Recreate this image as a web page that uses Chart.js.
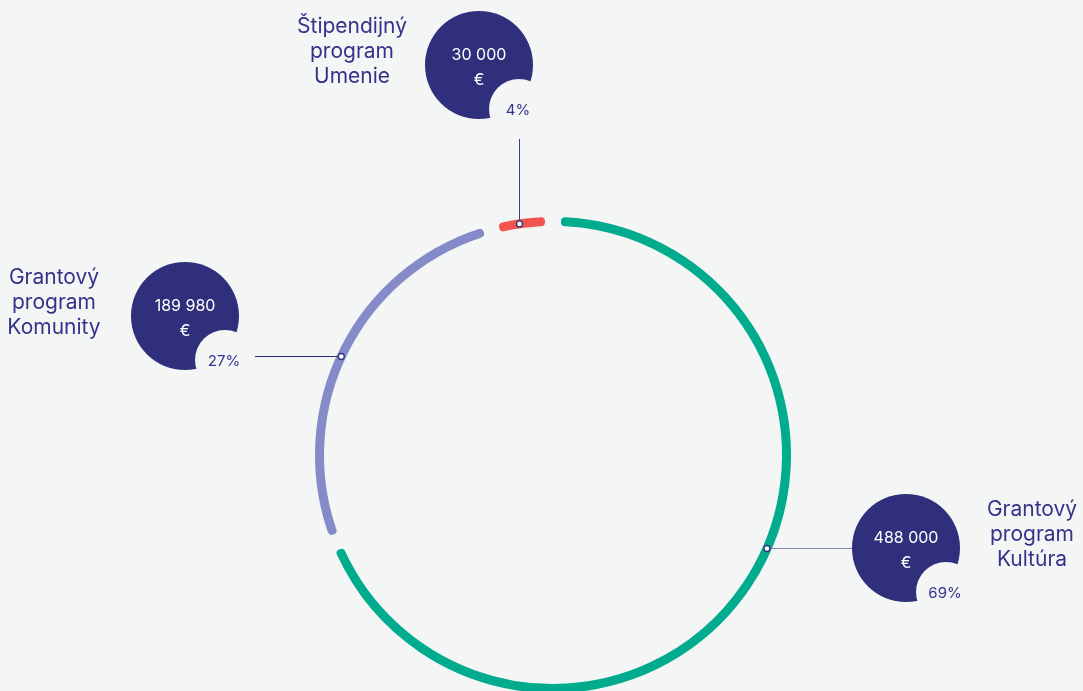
<!DOCTYPE html>
<html lang="sk">
<head>
<meta charset="utf-8">
<title>Rozdelenie podpory</title>
<script src="https://cdn.jsdelivr.net/npm/chart.js@4.4.1/dist/chart.umd.min.js"></script>
<style>
  html, body { margin: 0; padding: 0; background: #f4f6f5; overflow: hidden; }
  canvas { display: block; }
</style>
</head>
<body>
<canvas id="graf" width="1083" height="720"></canvas>
<script>
const programy = ["Grantový program Kultúra", "Grantový program Komunity", "Štipendijný program Umenie"];
const nazvyRiadky = [["Grantový", "program", "Kultúra"], ["Grantový", "program", "Komunity"], ["Štipendijný", "program", "Umenie"]];
const sumy = [488000, 189980, 30000];
const farby = ["#00ab8e", "#858ac8", "#f2554f"];

const pozadie = "#f4f6f5", tmava = "#2f2f7c", textFarba = "#33338a";

// rozlozenie popisov (kruh s hodnotou, nazov, spojovacia ciara)
const popisky = [
  { kruh: [906, 548], nazovX: 1032, ciara: { smer: "h", y: 548.5, x2: 852 }, farbaCiary: "#8386bd" },
  { kruh: [185, 316], nazovX: 54, ciara: { smer: "h", y: 356.5, x2: 255 }, farbaCiary: "#2f2f7c" },
  { kruh: [479, 65], nazovX: 352, ciara: { smer: "v", x: 519.5, y2: 138 }, farbaCiary: "#3f4090" }
];

function formatSuma(n) {
  return String(n).replace(/\B(?=(\d{3})+(?!\d))/g, " ");
}

const popisyPlugin = {
  id: "popisy",
  afterDatasetsDraw(chart) {
    const ctx = chart.ctx;
    const meta = chart.getDatasetMeta(0);
    const spolu = sumy.reduce((a, b) => a + b, 0);
    const arc = meta.data[0];
    const cx = arc.x, cy = arc.y;
    const r = (arc.outerRadius + arc.innerRadius) / 2;

    ctx.save();
    popisky.forEach((p, i) => {
      // bod na kruhu
      let bx, by, ex, ey;
      if (p.ciara.smer === "h") {
        by = ey = p.ciara.y;
        const d = Math.sqrt(r * r - (by - cy) * (by - cy));
        bx = p.ciara.x2 > cx ? cx + d : cx - d;
        ex = p.ciara.x2;
      } else {
        bx = ex = p.ciara.x;
        by = cy - Math.sqrt(r * r - (bx - cx) * (bx - cx));
        ey = p.ciara.y2;
      }
      ctx.strokeStyle = p.farbaCiary;
      ctx.lineWidth = 1;
      ctx.beginPath();
      ctx.moveTo(bx, by);
      ctx.lineTo(ex, ey);
      ctx.stroke();

      ctx.beginPath();
      ctx.arc(bx, by, 3, 0, Math.PI * 2);
      ctx.fillStyle = "#ffffff";
      ctx.fill();
      ctx.lineWidth = 1.3;
      ctx.strokeStyle = tmava;
      ctx.stroke();

      const [kx, ky] = p.kruh;
      ctx.beginPath();
      ctx.arc(kx, ky, 54, 0, Math.PI * 2);
      ctx.fillStyle = tmava;
      ctx.fill();

      ctx.beginPath();
      ctx.arc(kx + 40, ky + 44, 30, 0, Math.PI * 2);
      ctx.fillStyle = pozadie;
      ctx.fill();

      ctx.textAlign = "center";
      ctx.textBaseline = "middle";
      ctx.fillStyle = "#ffffff";
      ctx.font = "16px Inter";
      ctx.fillText(formatSuma(sumy[i]), kx, ky - 10);
      ctx.fillText("€", kx, ky + 15);

      ctx.fillStyle = textFarba;
      ctx.font = "15px Inter";
      ctx.fillText(Math.round(sumy[i] / spolu * 100) + "%", kx + 39, ky + 45);

      ctx.textBaseline = "alphabetic";
      ctx.font = "21px Inter";
      nazvyRiadky[i].forEach((riadok, j) => {
        ctx.fillText(riadok, p.nazovX, ky - 32 + j * 25);
      });
    });
    ctx.restore();
  }
};

function nakresli() {
  new Chart(document.getElementById("graf"), {
    type: "doughnut",
    data: {
      labels: programy,
      datasets: [{
        data: sumy,
        backgroundColor: farby,
        borderColor: pozadie,
        borderWidth: 16,
        borderRadius: 12,
        hoverOffset: 0
      }]
    },
    options: {
      responsive: false,
      animation: false,
      cutout: 221,
      layout: { padding: { left: 299, right: 276, top: 201, bottom: 11 } },
      plugins: { legend: { display: false }, tooltip: { enabled: false } },
      events: []
    },
    plugins: [popisyPlugin]
  });
}

if (document.fonts && document.fonts.load) {
  Promise.all([document.fonts.load("16px Inter"), document.fonts.load("21px Inter")]).then(nakresli, nakresli);
} else {
  nakresli();
}
</script>
</body>
</html>
